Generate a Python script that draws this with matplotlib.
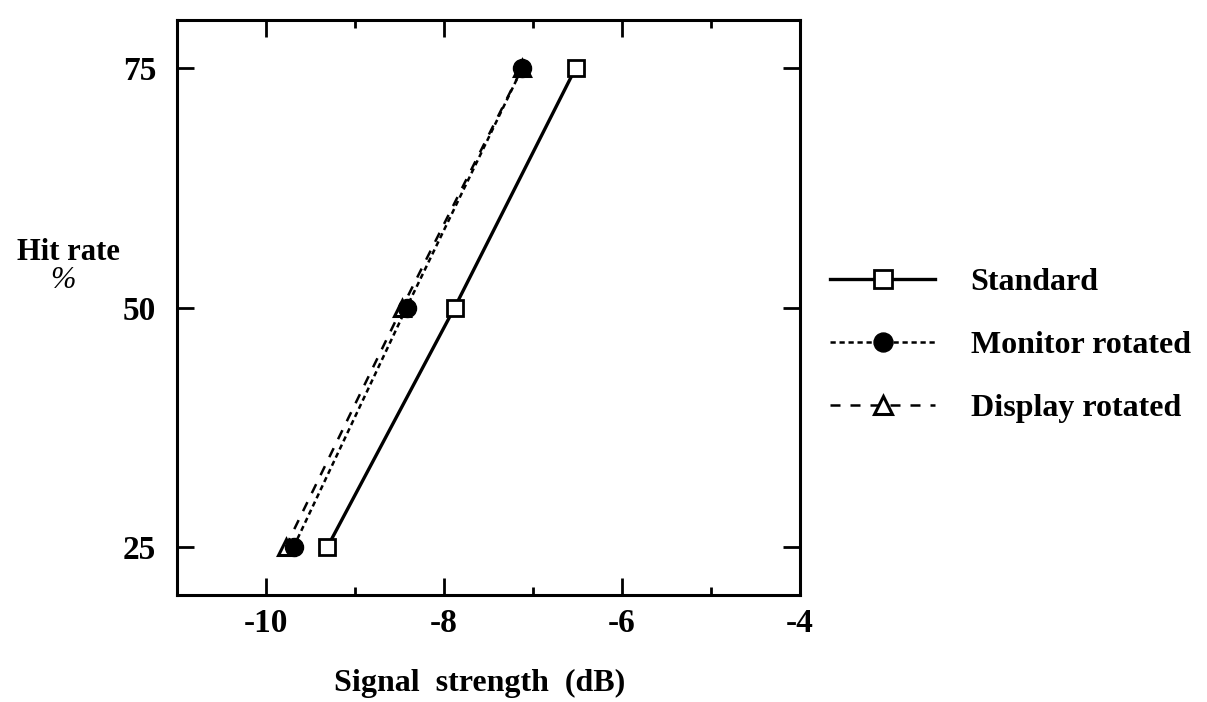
import matplotlib
matplotlib.use('Agg')
import matplotlib.pyplot as plt
from matplotlib.ticker import MultipleLocator

# Hit rate levels and signal strength (dB) for each condition
hit_rate = [25, 50, 75]
standard = [-9.31, -7.88, -6.52]
monitor_rot = [-9.69, -8.42, -7.12]
display_rot = [-9.78, -8.47, -7.12]

plt.rcParams['font.family'] = ['Liberation Serif', 'DejaVu Serif']
plt.rcParams['font.weight'] = 'bold'
plt.rcParams['axes.unicode_minus'] = False

fig = plt.figure(figsize=(12.07, 7.02), dpi=100)
ax = fig.add_axes([0.1466, 0.1524, 0.5162, 0.8191])

ax.plot(display_rot, hit_rate, color='black', ls=(0, (4, 4)), lw=1.8,
        marker='^', ms=12, mfc='white', mec='black', mew=2.2, label='Display rotated')
ax.plot(monitor_rot, hit_rate, color='black', ls=(0, (2.1, 1.5)), lw=1.8,
        marker='o', ms=13, mfc='black', mec='black', label='Monitor rotated')
ax.plot(standard, hit_rate, color='black', ls='-', lw=2.4,
        marker='s', ms=12, mfc='white', mec='black', mew=2, label='Standard')

ax.set_xlim(-11, -4)
ax.set_ylim(20, 80)
ax.xaxis.set_major_locator(MultipleLocator(2))
ax.xaxis.set_minor_locator(MultipleLocator(1))
ax.set_yticks(hit_rate)
ax.tick_params(which='both', direction='in', top=True, right=True, width=2)
ax.tick_params(which='major', length=12, labelsize=24)
ax.tick_params(axis='x', which='major', pad=9)
ax.tick_params(axis='y', which='major', pad=15)
ax.tick_params(which='minor', length=6)
for sp in ax.spines.values():
    sp.set_linewidth(2.2)

fig.text(0.0563, 0.641, 'Hit rate', fontsize=22, fontweight='bold', ha='center', va='center')
fig.text(0.0522, 0.601, '%', fontsize=22, fontstyle='italic', fontweight='normal', ha='center', va='center')
fig.text(0.397, 0.027, 'Signal  strength  (dB)', fontsize=23, fontweight='bold', ha='center', va='center')

h, l = ax.get_legend_handles_labels()
order = [2, 1, 0]
fig.legend([h[i] for i in order], [l[i] for i in order], loc='center left',
           bbox_to_anchor=(0.6877, 0.508), frameon=False, fontsize=23, borderpad=0,
           borderaxespad=0, handlelength=3.3, handletextpad=1.1, labelspacing=1.06,
           markerscale=1.05)

fig.savefig('out.png', dpi=100)
